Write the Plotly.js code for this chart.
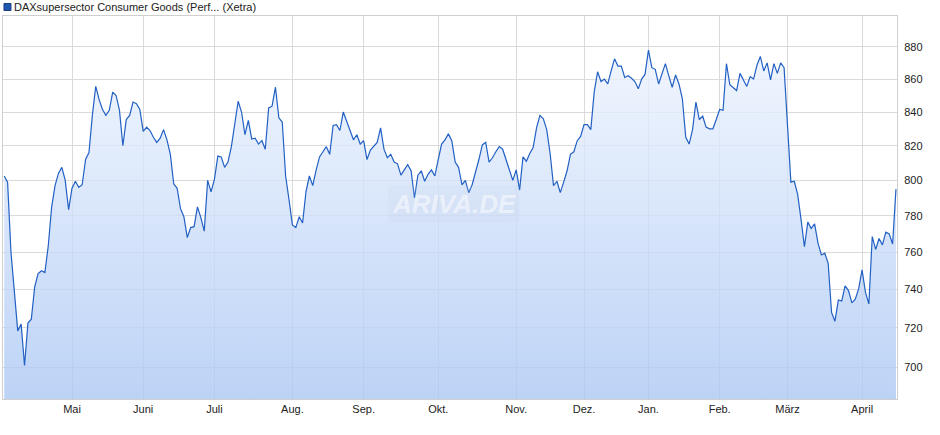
<!DOCTYPE html>
<html>
<head>
<meta charset="utf-8">
<script src="https://cdn.plot.ly/plotly-3.0.1.min.js"></script>
<style>
  html, body { margin: 0; padding: 0; background: #fff; }
  #chart { width: 940px; height: 435px; }
</style>
</head>
<body>
<div id="chart"></div>
<script>
// Daily closing values (trading days)
const seriesName = "DAXsupersector Consumer Goods (Perf... (Xetra)";
const closeValues = [
  802.5, 799, 760, 740, 718.5, 722, 701, 722.5, 724.5, 741.5,
  748.5, 750, 749, 763.5, 785, 797, 804, 807.5, 800, 783.5,
  795.5, 799.5, 796, 797.5, 812, 816, 838, 855.5, 847.5, 841.5,
  838, 841, 852, 850, 841, 820, 835.5, 838, 846, 845,
  841.5, 828.5, 831, 829, 825, 822, 824.5, 829.5, 823.5, 815,
  798, 795.5, 784, 779.5, 768, 773.5, 774, 785, 779, 771.5,
  800, 793.5, 800.5, 814, 813.5, 807.5, 810.5, 819.5, 832.5, 846.5,
  840, 826.5, 835, 824, 824.5, 821, 823, 818, 842.5, 843.5,
  855, 836.5, 834, 802.5, 789, 775, 773.5, 779.5, 776, 793.5,
  802.5, 797, 806, 813.5, 816.5, 819.5, 815, 832, 832.5, 829,
  840, 834.5, 830, 823.5, 826.5, 821, 823, 812, 817.5, 820,
  822, 830.5, 818, 813, 815, 810.5, 809.5, 803, 806, 809,
  805.5, 790, 803, 805.5, 799.5, 803.5, 806, 802.5, 812, 821,
  823.5, 827, 823, 810.5, 807.5, 797.5, 800, 793, 797.5, 804.5,
  812, 820.5, 822, 810.5, 813, 816.5, 819.5, 818, 812, 806,
  800, 806, 794.5, 813.5, 811, 815.5, 819, 830.5, 838, 836,
  829.5, 815.5, 797, 799.5, 793, 799, 805.5, 815, 816.5, 823,
  825.5, 832.5, 832.5, 829.5, 852, 864.5, 858.5, 860, 857, 865,
  872.5, 868, 868, 861, 862, 860.5, 858.5, 854, 860, 863,
  878, 867, 866, 857, 863, 869.5, 862, 855, 862.5, 857,
  848, 825, 821, 829.5, 846, 835.5, 837.5, 831, 830, 830,
  835.5, 841.5, 841, 869.5, 856.5, 854.5, 853, 863.5, 859, 855.5,
  861.5, 860, 868.5, 874, 865, 870, 859.5, 869.5, 863.5, 870,
  867, 832.5, 799, 799.5, 792, 778, 763, 776.5, 773, 775.5,
  765, 758.5, 759.5, 754, 728, 723.5, 734.5, 734, 742, 739.5,
  733, 735, 740.5, 750.5, 738.5, 732.5, 768.5, 761.5, 767.5, 764,
  771, 770, 764.5, 795
];
// Trading-day index of the first session of each month, and its label
const monthStartIndex = [20, 41, 62, 85, 106, 128, 151, 171, 190, 211, 231, 253];
const monthLabels = ["Mai", "Juni", "Juli", "Aug.", "Sep.", "Okt.", "Nov.", "Dez.", "Jan.", "Feb.", "März", "April"];
const yTickValues = [700, 720, 740, 760, 780, 800, 820, 840, 860, 880];

const dayIndex = closeValues.map((_, i) => i);

const trace = {
  x: dayIndex,
  y: closeValues,
  type: "scatter",
  mode: "lines",
  name: seriesName,
  line: { color: "#2260c4", width: 1.2 },
  fill: "tozeroy",
  fillgradient: {
    type: "vertical",
    start: 684,
    stop: 900,
    colorscale: [
      [0, "rgba(172,200,244,0.8)"],
      [1, "rgba(244,248,255,0.8)"]
    ]
  },
  hoverinfo: "skip",
  showlegend: false
};

const font = "'Liberation Sans', Arial, sans-serif";

const layout = {
  width: 940,
  height: 435,
  margin: { l: 3, r: 43, t: 16, b: 36, pad: 0 },
  paper_bgcolor: "#ffffff",
  plot_bgcolor: "#ffffff",
  showlegend: false,
  font: { family: font, size: 11, color: "#222" },
  xaxis: {
    range: [-0.35, 263.3],
    tickmode: "array",
    tickvals: monthStartIndex,
    ticktext: monthLabels,
    showgrid: true,
    gridcolor: "#dadada",
    gridwidth: 1,
    zeroline: false,
    showline: true,
    linecolor: "#cfcfcf",
    linewidth: 1,
    mirror: true,
    ticks: "",
    tickfont: { family: "'Liberation Sans Narrow', 'Arial Narrow', " + font, size: 11, color: "#222" }
  },
  yaxis: {
    type: "log",
    range: [Math.log10(684.4), Math.log10(899.6)],
    side: "right",
    tickmode: "array",
    tickvals: yTickValues,
    ticktext: yTickValues.map(String),
    showgrid: true,
    gridcolor: "#dadada",
    gridwidth: 1,
    zeroline: false,
    showline: true,
    linecolor: "#cfcfcf",
    linewidth: 1,
    mirror: true,
    ticks: "outside",
    ticklen: 4,
    tickcolor: "rgba(0,0,0,0)",
    tickfont: { family: font, size: 11, color: "#222" }
  },
  shapes: [
    {
      type: "rect", xref: "paper", yref: "paper",
      x0: 0.0011, x1: 0.0089, y0: 1.0144, y1: 1.0326,
      fillcolor: "#1f56b0",
      line: { color: "#1a3f80", width: 1 }
    }
  ],
  annotations: [
    {
      text: seriesName,
      xref: "paper", yref: "paper",
      x: 0.0105, y: 1.0235,
      xanchor: "left", yanchor: "middle",
      showarrow: false,
      font: { family: font, size: 11, color: "#222" }
    },
    {
      text: "<b><i>ARIVA.DE</i></b>",
      xref: "paper", yref: "paper",
      x: 0.505, y: 0.51,
      xanchor: "center", yanchor: "middle",
      showarrow: false,
      bgcolor: "rgba(190,205,230,0.14)",
      borderpad: 3,
      font: { family: font, size: 26, color: "rgba(255,255,255,0.5)" }
    }
  ]
};

Plotly.newPlot("chart", [trace], layout, { staticPlot: true, displayModeBar: false });
</script>
</body>
</html>
